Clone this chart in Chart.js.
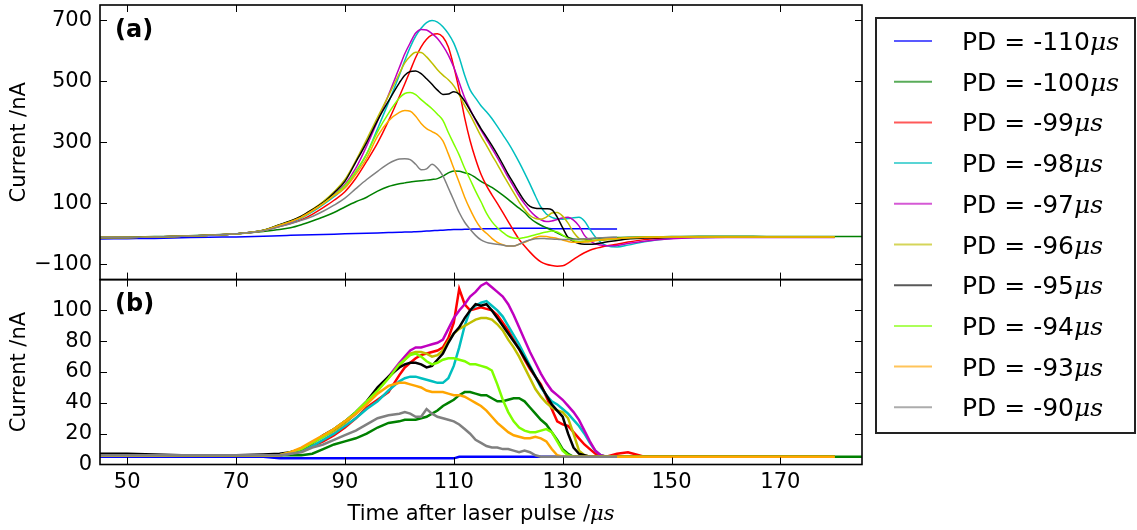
<!DOCTYPE html>
<html><head><meta charset="utf-8">
<script src="https://cdn.jsdelivr.net/npm/chart.js@4/dist/chart.umd.min.js"></script>
<style>html,body{margin:0;padding:0;background:#fff;}#wrap{width:1137px;height:530px;}</style>
</head><body><div id="wrap"><canvas id="c" width="1137" height="530"></canvas></div>
<script>
// ---------- data ----------
const times = [45,50,55,60,65,70,75,78,
  80,82,84,86,88,90,92,94,96,98,
  100,101,102,103,104,105,106,107,108,109,
  110,111,112,113,114,115,116,117,118,119,
  120,121,122,123,124,125,126,127,128,129,
  130,131,132,133,134,135,136,137,138,
  140,142,145,
  150,155,160,165,170,175,180,185];
const xTicks = [50,70,90,110,130,150,170];
const yTicksA = [-100,100,300,500,700];
const yTicksB = [0,20,40,60,80,100];
const seriesNames = ['PD = -110','PD = -100','PD = -99','PD = -98','PD = -97','PD = -96','PD = -95','PD = -94','PD = -93','PD = -90'];
const seriesColors = ['#0000ff','#008000','#ff0000','#00bfbf','#bf00bf','#bfbf00','#000000','#7fff00','#ffa500','#808080'];
const N = null;

// panel (a)
const a_pd110 = [-17,-16,-15,-13,-11,-10,-8,-6, -5,-4,-3,-2,-1,0,1,2,3,4, 5,6,6,7,8,9,10,11,12,13, 14,14,15,15,16,16,17,17,17,18, 18,18,18,18,18,18,18,18,17,17, 17,17,17,17,17,16,16,16,16, 16,N,N, N,N,N,N,N,N,N,N];
const a_pd100 = [-12,-11,-9,-7,-4,0,8,14, 20,30,42,55,70,88,105,120,140,155, 164,167,170,172,174,176,178,181,189,200, 206,205,200,195,184,172,162,152,140,127, 113,98,84,70,52,38,28,20,12,3, -6,-12,-17,-19,-18,-17,-15,-14,-13, -12,-11,-10, -9,-8,-8,-8,-9,-9,-9,-9];
const a_pd99 = [-12,-12,-10,-8,-5,0,10,24, 34,46,64,86,110,138,182,238,298,370, 450,492,535,578,613,638,652,656,645,612, 548,470,380,305,245,195,158,128,100,70, 40,10,-18,-40,-60,-78,-92,-100,-104,-106, -105,-96,-84,-72,-62,-54,-48,-44,-40, -34,-27,-19, -12,-10,-10,-10,-10,-10,-10,N];
const a_pd98 = [-12,-12,-10,-8,-5,0,11,26, 37,52,72,96,122,152,202,262,345,430, 520,568,612,648,674,692,699,694,679,656, 625,578,520,472,445,420,400,378,352,325, 298,268,235,200,163,124,88,65,54,49, 48,50,53,54,42,15,-10,-28,-38, -43,-37,-26, -15,-12,-11,-10,-10,-10,-10,N];
const a_pd97 = [-12,-12,-10,-8,-5,0,11,26, 38,54,75,100,130,162,215,288,370,455, 545,590,626,658,670,668,656,640,616,586, 546,496,446,408,372,340,310,280,250,218, 185,155,124,98,76,58,46,40,42,47, 52,54,45,26,-5,-22,-33,-37,-39, -38,-32,-24, -16,-13,-12,-12,-12,-12,-12,N];
const a_pd96 = [-12,-12,-10,-8,-5,0,12,30, 42,58,80,106,138,178,240,310,382,452, 525,560,582,595,594,580,560,538,520,505, 485,455,420,390,355,320,290,258,228,196, 165,135,105,80,60,50,48,55,68,70, 58,35,5,-15,-20,-22,-22,-21,-20, -17,-14,-12, -10,-10,-10,-10,-10,-10,-10,N];
const a_pd95 = [-12,-12,-10,-8,-5,0,12,30, 42,58,79,102,134,172,235,300,372,435, 495,520,532,534,525,508,490,471,457,458, 466,458,435,405,375,345,318,290,260,228, 195,165,135,108,90,84,83,82,79,55, 20,-12,-25,-32,-34,-34,-33,-30,-27, -22,-17,-14, -11,-10,-10,-10,-10,-10,-10,N];
const a_pd94 = [-12,-12,-10,-8,-5,0,11,28, 40,54,75,99,127,158,205,262,335,395, 445,460,463,456,440,425,410,392,372,332, 295,258,215,178,140,105,68,40,20,5, -8,-14,-15,-12,-8,-3,2,6,9,6, -4,-15,-22,-26,-26,-24,-21,-19,-17, -15,-13,-11, -10,-10,-10,-10,-10,-10,-10,N];
const a_pd93 = [-12,-12,-10,-8,-5,0,11,28, 40,55,76,99,125,150,195,248,320,370, 398,404,402,385,362,345,335,325,305,262, 215,168,120,80,45,18,2,-15,-28,-36, -40,-40,-34,-28,-20,-12,-8,-9,-12,-15, -20,-25,-28,-28,-27,-26,-22,-19,-17, -15,-13,-11, -10,-10,-10,-10,-10,-10,-10,N];
const a_pd90 = [-12,-12,-10,-8,-5,0,10,24, 33,44,57,74,94,117,148,178,205,230, 245,246,243,228,210,213,228,215,190,150, 110,70,38,15,-5,-20,-28,-32,-34,-37, -40,-40,-34,-26,-20,-16,-15,-16,-17,-18, -19,-19,-18,-17,-16,-15,-14,-13,-12, -11,N,N, N,N,N,N,N,N,N,N];

// panel (b)
const b_pd110 = [5,5,5,5,5,5,5,4, 4,4,4,4,4,4,4,4,4,4, 4,4,4,4,4,4,4,4,4,4, 4,5,5,5,5,5,5,5,5,5, 5,5,5,5,5,5,5,5,5,5, 5,5,5,5,5,5,5,5,5, 5,N,N, N,N,N,N,N,N,N,N];
const b_pd100 = [6,6,6,6,6,6,6,6, 6,6,7,10,13,15,17,20,24,27, 28,29,29,29,30,31,33,35,38,40, 42,45,47,47,46,45,45,43,41,41, 42,43,43,41,37,33,29,26,21,16, 10,7,5,5,5,5,5,5,5, 5,5,5, 5,5,5,5,5,5,5,5];
const b_pd99 = [6,6,6,6,6,6,6,6, 7,9,12,15,19,24,30,37,42,47, 58,63,66,69,71,72,73,74,76,82, 92,114,104,100,101,102,101,100,97,92, 87,81,75,68,62,57,52,44,36,28, 26,25,21,17,13,10,7,6,5, 7,8,5, 5,5,5,5,5,5,5,N];
const b_pd98 = [6,6,6,6,6,6,6,6, 7,9,12,16,20,25,30,36,41,48, 54,56,57,57,56,55,54,53,53,56, 64,76,90,100,103,105,106,103,100,96, 90,84,78,71,64,57,50,45,41,39, 36,33,29,25,20,14,9,6,5, 5,5,5, 5,5,5,5,5,5,5,N];
const b_pd97 = [6,6,6,6,6,6,6,6, 8,10,14,18,22,27,33,40,48,57, 66,70,74,76,76,77,78,79,81,88, 95,100,104,109,112,116,118,115,112,109, 104,97,89,81,73,66,59,53,48,45, 42,38,34,29,22,15,9,6,5, 5,5,5, 5,5,5,5,5,5,5,N];
const b_pd96 = [6,6,6,6,6,6,6,6, 8,10,14,18,22,27,33,40,48,56, 64,68,72,73,73,72,70,71,74,80, 85,88,90,92,94,95,95,94,91,87, 81,76,70,63,56,49,44,40,37,35, 34,30,20,9,6,5,5,5,5, 5,5,5, 5,5,5,5,5,5,5,N];
const b_pd95 = [7,7,6.5,6,6,6,6.5,7, 8,10,14,19,23,28,34,41,50,57, 63,65,66,66,65,63,64,68,72,79, 85,89,95,100,104,103,104,100,95,90, 85,80,75,69,63,57,51,45,39,35, 31,20,11,7,6,5,5,5,5, 5,5,5, 5,5,5,5,5,5,5,N];
const b_pd94 = [6,6,6,6,6,6,6,6, 8,10,14,18,23,28,34,41,48,56, 65,68,71,72,70,67,65,66,68,69, 69,68,67,65,65,64,63,61,52,42, 34,28,24,22,21,21,22,23,21,15, 9,6,5,5,5,5,5,5,5, 5,5,5, 5,5,5,5,5,5,5,N];
const b_pd93 = [6,6,6,6,6,6,6,6, 8,11,15,19,23,28,33,39,46,51, 53,53,52,51,50,48,47,47,47,46, 45,45,44,42,40,38,35,31,27,24, 21,19,18,17,17,18,17,15,10,6, 5,5,5,5,5,5,5,5,5, 5,5,5, 5,5,5,5,5,5,5,N];
const b_pd90 = [6,6,6,6,6,6,6,6, 7,8,11,13,16,19,22,26,30,32, 33,34,33,31,31,36,33,31,30,29, 28,26,23,20,16,14,12,11,11,10, 10,9,8,9,8,6,5,5,5,5, 5,5,5,5,5,5,5,5,5, 5,N,N, N,N,N,N,N,N,N,N];

const panelA = [a_pd110,a_pd100,a_pd99,a_pd98,a_pd97,a_pd96,a_pd95,a_pd94,a_pd93,a_pd90];
const panelB = [b_pd110,b_pd100,b_pd99,b_pd98,b_pd97,b_pd96,b_pd95,b_pd94,b_pd93,b_pd90];

// ---------- chart ----------
const FONT = '"DejaVu Sans", sans-serif';
const MATH = '"DejaVu Serif", serif';
const pts = arr => times.map((t,i)=>({x:t, y:arr[i]}));
const datasets = [];
panelA.forEach((arr,i)=>datasets.push({label:seriesNames[i], data:pts(arr), yAxisID:'ya', borderColor:seriesColors[i], borderWidth:1.5, pointRadius:0, cubicInterpolationMode:'monotone', order:10-i, spanGaps:false}));
panelB.forEach((arr,i)=>datasets.push({label:seriesNames[i], data:pts(arr), yAxisID:'yb', borderColor:seriesColors[i], borderWidth:2.5, pointRadius:0, tension:0, order:10-i, spanGaps:false}));

const fmt = v => v < 0 ? '\u2212' + Math.abs(v) : String(v);
function noPad(s){ s.paddingTop=0; s.paddingBottom=0; s.paddingLeft=0; s.paddingRight=0; }

function mixedText(ctx, plain, math, x, y, size, msize, align){
  ctx.font = size + 'px ' + FONT;
  const w1 = ctx.measureText(plain).width;
  ctx.font = 'italic ' + msize + 'px ' + MATH;
  const w2 = ctx.measureText(math).width;
  let x0 = align === 'center' ? x - (w1+w2)/2 : x;
  ctx.textAlign = 'left'; ctx.textBaseline = 'alphabetic';
  ctx.font = size + 'px ' + FONT;
  ctx.fillText(plain, x0, y);
  ctx.font = 'italic ' + msize + 'px ' + MATH;
  ctx.fillText(math, x0 + w1, y);
}

const framePlugin = {
  id: 'frame',
  afterDraw(chart){
    const ctx = chart.ctx, ca = chart.chartArea;
    const xs = chart.scales.x, ya = chart.scales.ya, yb = chart.scales.yb;
    ctx.save();
    ctx.strokeStyle = '#000'; ctx.fillStyle = '#000';
    const tl = 7;
    [[ya, yTicksA],[yb, yTicksB]].forEach(([ys, tv])=>{
      ctx.lineWidth = 1;
      ctx.beginPath();
      xTicks.forEach(v=>{
        const px = Math.round(xs.getPixelForValue(v)) + 0.5;
        ctx.moveTo(px, ys.top); ctx.lineTo(px, ys.top + tl);
        ctx.moveTo(px, ys.bottom); ctx.lineTo(px, ys.bottom - tl);
      });
      tv.forEach(v=>{
        const py = Math.round(ys.getPixelForValue(v)) + 0.5;
        ctx.moveTo(ca.left, py); ctx.lineTo(ca.left + tl, py);
        ctx.moveTo(ca.right, py); ctx.lineTo(ca.right - tl, py);
      });
      ctx.stroke();
      ctx.lineWidth = 1.6;
      ctx.strokeRect(ca.left, ys.top, ca.right - ca.left, ys.bottom - ys.top);
    });
    // panel labels
    ctx.font = 'bold 24px ' + FONT;
    ctx.textAlign = 'left'; ctx.textBaseline = 'middle';
    ctx.fillText('(a)', ca.left + 15, ya.top + 26);
    ctx.fillText('(b)', ca.left + 15, yb.top + 25);
    // x title
    mixedText(ctx, 'Time after laser pulse /', '\u03bcs', (ca.left + ca.right)/2, 520, 21, 21, 'center');
    // legend
    const bx = ca.right + 14, by = 18, bw = 259, bh = 415;
    ctx.lineWidth = 2; ctx.strokeStyle = '#222';
    ctx.strokeRect(bx, by, bw, bh);
    seriesNames.forEach((name, i)=>{
      const cy = 41 + i*40.7;
      ctx.globalAlpha = 0.65;
      ctx.strokeStyle = seriesColors[i]; ctx.lineWidth = 2;
      ctx.beginPath(); ctx.moveTo(bx + 18, cy); ctx.lineTo(bx + 56, cy); ctx.stroke();
      ctx.globalAlpha = 1;
      ctx.fillStyle = '#000';
      mixedText(ctx, name, '\u03bcs', bx + 86, cy + 9, 25, 25, 'left');
    });
    ctx.restore();
  }
};

Chart.defaults.color = '#000';
Chart.defaults.font.family = FONT;
new Chart(document.getElementById('c'), {
  type: 'line',
  data: { datasets },
  plugins: [framePlugin],
  options: {
    responsive: false, animation: false, devicePixelRatio: 1,
    layout: { padding: { top: 5, right: 275, bottom: 0, left: 0 } },
    plugins: { legend: { display: false }, tooltip: { enabled: false } },
    scales: {
      x: {
        type: 'linear', position: 'bottom', min: 45, max: 185,
        afterBuildTicks: s => { s.ticks = xTicks.map(v=>({value:v})); },
        afterFit: s => { s.height = 65.5; noPad(s); },
        ticks: { font: { size: 21 }, padding: 5, maxRotation: 0, autoSkip: false, callback: v => String(v) },
        grid: { display: false, drawTicks: false }, border: { display: false }
      },
      ya: {
        type: 'linear', position: 'left', stack: 'v', stackWeight: 1.485, weight: 1,
        min: -150, max: 750,
        afterBuildTicks: s => { s.ticks = yTicksA.map(v=>({value:v})); },
        afterFit: s => { s.width = 100; noPad(s); },
        ticks: { font: { size: 21 }, padding: 8, autoSkip: false, callback: fmt },
        title: { display: true, text: 'Current /nA', font: { size: 21 }, padding: { top: 7, bottom: 0 } },
        grid: { display: false, drawTicks: false }, border: { display: false }
      },
      yb: {
        type: 'linear', position: 'left', stack: 'v', stackWeight: 1, weight: 0,
        min: 0, max: 120,
        afterBuildTicks: s => { s.ticks = yTicksB.map(v=>({value:v})); },
        afterFit: s => { s.width = 100; noPad(s); },
        ticks: { font: { size: 21 }, padding: 8, autoSkip: false, callback: fmt },
        title: { display: true, text: 'Current /nA', font: { size: 21 }, padding: { top: 7, bottom: 0 } },
        grid: { display: false, drawTicks: false }, border: { display: false }
      }
    }
  }
});
</script></body></html>
